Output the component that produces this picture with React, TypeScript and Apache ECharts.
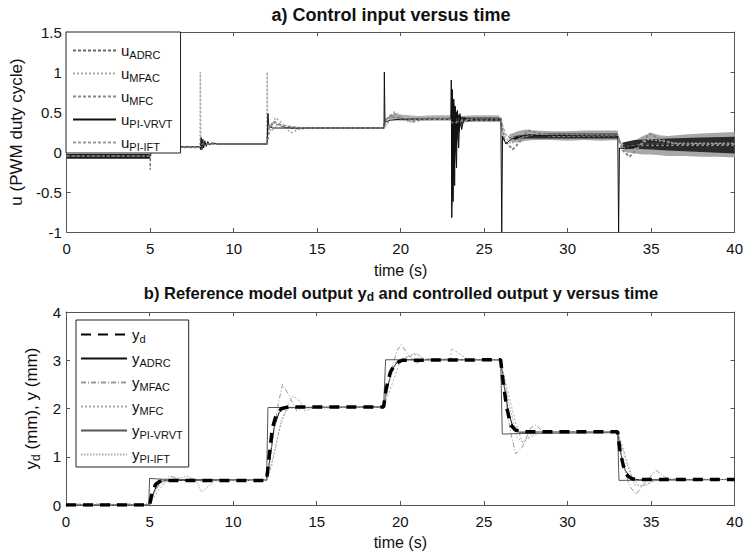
import React, { useEffect, useRef } from 'react';
import * as echarts from 'echarts';

const FONT = '"Liberation Sans", Arial, Helvetica, sans-serif';

// ---------- panel a) control input ----------
const uNames = ['u_ADRC', 'u_MFAC', 'u_MFC', 'u_PI-VRVT', 'u_PI-IFT'];

const uADRC: number[][] = [
  [0, -0.05], [4.98, -0.05], [5.0, -0.22], [5.05, 0.065], [7.98, 0.065], [8.02, 0.12], [8.3, 0.1], [11.98, 0.1],
  [12.05, 0.28], [12.4, 0.36], [13, 0.31], [13.6, 0.29], [14.5, 0.3], [18.98, 0.3], [19.05, 0.42], [19.5, 0.44],
  [20.3, 0.41], [21, 0.42], [22.98, 0.42], [23.1, 0.4], [23.5, 0.41], [25.98, 0.41], [26.1, 0.25], [26.5, 0.18],
  [27.2, 0.2], [28, 0.21], [32.98, 0.21], [33.1, 0.12], [33.6, 0.07], [34.5, 0.1], [36, 0.1], [40, 0.1],
];
const uMFAC: number[][] = [
  [0, -0.05], [5, -0.05], [5.05, 0.065], [7.98, 0.065], [8.0, 1.0], [8.03, 0.1], [11.98, 0.1], [12.0, 1.0],
  [12.05, 0.2], [12.5, 0.43], [12.9, 0.36], [13.4, 0.24], [13.9, 0.28], [14.5, 0.3], [19, 0.3], [19.2, 0.36],
  [19.6, 0.5], [20, 0.46], [20.5, 0.37], [21, 0.4], [23, 0.42], [23.2, 0.37], [23.6, 0.36], [24.2, 0.41],
  [26, 0.42], [26.2, 0.2], [26.6, 0.1], [27.2, 0.18], [27.8, 0.24], [29, 0.21], [33, 0.21], [33.2, 0.08],
  [33.6, 0.0], [34.2, 0.06], [34.8, 0.16], [35.5, 0.14], [36.5, 0.11], [40, 0.11],
];
const uMFC: number[][] = [
  [0, -0.05], [5, -0.05], [5.05, 0.06], [8, 0.06], [8.05, 0.1], [12, 0.1], [12.1, 0.3], [12.4, 0.38], [13, 0.32],
  [14, 0.3], [19, 0.3], [19.1, 0.4], [19.6, 0.48], [20.2, 0.41], [20.8, 0.38], [21.5, 0.42], [23, 0.42],
  [23.2, 0.38], [24, 0.4], [26, 0.42], [26.2, 0.15], [26.7, 0.03], [27.1, 0.12], [27.6, 0.27], [28.2, 0.24],
  [29, 0.2], [33, 0.2], [33.3, 0.02], [33.7, -0.06], [34.2, 0.05], [34.9, 0.23], [35.6, 0.15], [36.5, 0.1], [40, 0.1],
];
const uPIVRVT: number[][] = [
  [0, -0.05], [5, -0.05], [5.03, 0.065], [8, 0.065], [8.01, 0.03], [8.05, 0.18], [8.1, 0.03], [8.15, 0.16],
  [8.2, 0.05], [8.27, 0.14], [8.35, 0.07], [8.45, 0.13], [8.55, 0.09], [8.7, 0.115], [9, 0.1], [12, 0.1],
  [12.05, 0.48], [12.1, 0.33], [12.3, 0.3], [14, 0.3], [19, 0.3], [19.02, 1.0], [19.06, 0.38], [19.5, 0.4],
  [20, 0.41], [23, 0.41], [23.03, 0.9], [23.06, -0.82], [23.1, 0.78], [23.14, -0.62], [23.18, 0.66],
  [23.23, -0.42], [23.28, 0.57], [23.34, -0.2], [23.4, 0.52], [23.47, 0.05], [23.55, 0.48], [23.65, 0.28],
  [23.8, 0.43], [24, 0.39], [24.5, 0.41], [26, 0.41], [26.05, -1.0], [26.1, 0.2], [26.3, 0.1], [26.6, 0.16],
  [27.5, 0.21], [33, 0.2], [33.05, -1.0], [33.1, 0.05], [33.5, 0.04], [34.5, 0.08], [40, 0.08],
];
const uPIIFT: number[][] = [
  [0, -0.05], [5, -0.05], [5.05, 0.065], [8, 0.065], [8.05, 0.1], [12, 0.1], [12.1, 0.22], [12.6, 0.34],
  [13.2, 0.33], [14, 0.3], [19, 0.3], [19.3, 0.38], [19.8, 0.45], [20.5, 0.4], [23, 0.41], [23.1, 0.36],
  [23.5, 0.38], [24, 0.4], [26, 0.4], [26.3, 0.22], [26.7, 0.13], [27.3, 0.18], [28, 0.22], [33, 0.21],
  [33.3, 0.06], [33.8, 0.02], [34.5, 0.08], [40, 0.08],
];

// noise envelopes of the input signals: [t, low, high]
const bandDark0: number[][] = [[0, -0.085, -0.025], [2.5, -0.085, -0.025], [5, -0.085, -0.025]];
const bandSpike23: number[][] = [
  [23.02, 0.4, 0.4], [23.04, -0.82, 0.9], [23.1, -0.6, 0.72], [23.2, -0.3, 0.6], [23.3, 0.0, 0.52],
  [23.45, 0.22, 0.47], [23.6, 0.33, 0.44], [23.8, 0.38, 0.43],
];
const bandGray19: number[][] = [
  [19.3, 0.4, 0.47], [20, 0.39, 0.47], [21, 0.39, 0.45], [22, 0.39, 0.46], [23, 0.39, 0.46],
  [23.5, 0.37, 0.45], [24.5, 0.38, 0.46], [25.9, 0.38, 0.46],
];
const bandDark23: number[][] = [[23.4, 0.38, 0.43], [24, 0.385, 0.43], [25, 0.385, 0.43], [26, 0.385, 0.43]];
const bandGray26: number[][] = [
  [26.5, 0.13, 0.22], [27, 0.12, 0.26], [27.5, 0.14, 0.28], [28, 0.15, 0.27], [29, 0.15, 0.26],
  [30, 0.14, 0.26], [31, 0.15, 0.27], [32, 0.14, 0.27], [33, 0.15, 0.27],
];
const bandDark26: number[][] = [
  [26.8, 0.15, 0.2], [27.5, 0.17, 0.22], [28.5, 0.17, 0.23], [30, 0.17, 0.23], [31.5, 0.17, 0.23], [33, 0.17, 0.23],
];
const bandGray33: number[][] = [
  [33.4, 0.0, 0.1], [34, -0.02, 0.14], [34.5, -0.03, 0.2], [35, -0.03, 0.24], [35.5, -0.04, 0.21],
  [36, -0.05, 0.2], [37, -0.05, 0.22], [38, -0.06, 0.23], [39, -0.06, 0.24], [40, -0.07, 0.25],
];
const bandDark33: number[][] = [
  [33.3, 0.04, 0.12], [34, 0.04, 0.15], [35, 0.03, 0.16], [36, 0.02, 0.17], [38, 0.0, 0.18], [40, -0.02, 0.19],
];

// ---------- panel b) outputs ----------
const yNames = ['y_d', 'y_ADRC', 'y_MFAC', 'y_MFC', 'y_PI-VRVT', 'y_PI-IFT'];

const yD: number[][] = [
  [0, 0], [5, 0], [5.15, 0.25], [5.35, 0.42], [5.6, 0.49], [6, 0.51], [12, 0.51], [12.15, 1.0], [12.35, 1.6],
  [12.6, 1.9], [12.9, 2.0], [13.3, 2.03], [19, 2.03], [19.15, 2.4], [19.4, 2.75], [19.7, 2.93], [20.1, 3.0],
  [26, 3.01], [26.15, 2.55], [26.35, 2.05], [26.6, 1.66], [26.9, 1.55], [27.3, 1.52], [33, 1.52], [33.15, 1.1],
  [33.35, 0.8], [33.6, 0.6], [33.9, 0.54], [34.3, 0.53], [40, 0.53],
];
const yADRC: number[][] = [
  [0, 0], [5, 0], [5.2, 0.22], [5.45, 0.42], [5.8, 0.5], [6.3, 0.51], [12, 0.51], [12.2, 0.95], [12.45, 1.6],
  [12.75, 1.92], [13.1, 2.02], [19, 2.03], [19.2, 2.4], [19.5, 2.8], [19.8, 2.96], [20.2, 3.01], [26, 3.01],
  [26.2, 2.5], [26.45, 1.95], [26.75, 1.6], [27.1, 1.51], [33, 1.52], [33.2, 1.05], [33.45, 0.72], [33.8, 0.55],
  [34.3, 0.52], [40, 0.53],
];
const yMFAC: number[][] = [
  [0, 0.02], [5, 0.02], [5.2, 0.2], [5.6, 0.45], [6.2, 0.6], [7, 0.52], [7.4, 0.55], [8, 0.5], [12, 0.51],
  [12.3, 1.2], [12.7, 2.1], [12.95, 2.5], [13.3, 2.3], [13.8, 1.95], [14.3, 2.02], [19, 2.03], [19.4, 2.7],
  [19.8, 3.2], [20.05, 3.32], [20.5, 3.1], [20.95, 2.94], [21.6, 3.03], [26, 3.01], [26.3, 2.2], [26.6, 1.5],
  [26.9, 1.06], [27.3, 1.2], [27.8, 1.6], [28.1, 1.66], [28.6, 1.5], [33, 1.52], [33.3, 0.9], [33.7, 0.4],
  [34.1, 0.22], [34.6, 0.45], [35.3, 0.72], [35.8, 0.58], [36.5, 0.53], [40, 0.53],
];
const yMFC: number[][] = [
  [0, 0], [5, 0], [5.5, 0.3], [6, 0.48], [6.5, 0.52], [12, 0.51], [12.3, 0.8], [12.8, 1.6], [13.3, 2.1],
  [13.6, 2.26], [14, 2.15], [14.3, 1.95], [15, 2.03], [19, 2.03], [19.4, 2.4], [19.9, 2.9], [20.3, 3.05],
  [21, 3.13], [21.5, 3.0], [23, 3.0], [23.05, 3.25], [23.6, 3.12], [24, 3.02], [26, 3.01], [26.4, 2.4],
  [26.9, 1.7], [27.3, 1.3], [27.7, 1.38], [28.3, 1.5], [33, 1.52], [33.4, 1.1], [33.9, 0.55], [34.3, 0.38],
  [34.6, 0.41], [35.2, 0.5], [36, 0.53], [40, 0.53],
];
const yPIVRVT: number[][] = [
  [0, 0], [4.95, 0], [5.0, 0.55], [6, 0.53], [12, 0.52], [12.08, 2.02], [19, 2.03], [19.12, 3.01], [26, 3.01],
  [26.1, 1.47], [27, 1.48], [33, 1.5], [33.08, 0.51], [40, 0.53],
];
const yPIIFT: number[][] = [
  [0, 0], [5, 0], [5.4, 0.35], [6, 0.5], [7.3, 0.6], [7.8, 0.5], [8.1, 0.27], [8.5, 0.38], [8.9, 0.5], [12, 0.51],
  [12.4, 1.0], [12.9, 1.8], [13.3, 2.0], [19, 2.03], [19.3, 2.5], [19.7, 2.95], [20.2, 3.05], [20.9, 3.15],
  [21.5, 3.0], [26, 3.01], [26.5, 2.1], [27.0, 1.4], [27.3, 1.3], [27.8, 1.45], [28.4, 1.52], [33, 1.52],
  [33.5, 0.9], [34.0, 0.42], [34.6, 0.4], [35.2, 0.5], [40, 0.53],
];

function lineSeries(name: string, data: number[][], panel: number, color: string, width: number, type: any, z = 3) {
  return {
    type: 'line', name, data, xAxisIndex: panel * 2, yAxisIndex: panel * 2, symbol: 'none', showSymbol: false,
    lineStyle: { color, width, type }, itemStyle: { color }, z, silent: true, clip: true,
  };
}

function bandSeries(data: number[][], panel: number, color: string, z: number) {
  return {
    type: 'custom', data, xAxisIndex: panel * 2, yAxisIndex: panel * 2, encode: { x: 0, y: [1, 2] }, silent: true, z,
    renderItem: (params: any, api: any) => {
      if (params.dataIndex !== 0) return null;
      const top = data.map((d) => api.coord([d[0], d[2]]));
      const bot = data.map((d) => api.coord([d[0], d[1]])).reverse();
      return { type: 'polygon', shape: { points: top.concat(bot) }, style: { fill: color } };
    },
  };
}

const subFmt = (name: string) => {
  const i = name.indexOf('_');
  return `{m|${name.slice(0, i)}}{s|${name.slice(i + 1)}}`;
};

const richLegend = {
  m: { fontSize: 15, lineHeight: 16, fontFamily: FONT, color: '#111' },
  s: { fontSize: 11, lineHeight: 16, fontFamily: FONT, color: '#111', padding: [8, 0, 0, 0] },
};

function axisPair(gridIndex: number, min: number, max: number, interval: number, name: string, nameGap: number, rich?: any) {
  const line = { show: true, onZero: false, lineStyle: { color: '#555', width: 1 } };
  const tick = { show: true, inside: true, length: 4, lineStyle: { color: '#555' } };
  return {
    x: [
      {
        type: 'value', gridIndex, min: 0, max: 40, interval: 5, position: 'bottom', axisLine: line, axisTick: tick,
        splitLine: { show: false },
        axisLabel: { fontSize: 15, color: '#111', fontFamily: FONT, margin: 9 },
        name: 'time (s)', nameLocation: 'middle', nameGap: gridIndex === 0 ? 30 : 29,
        nameTextStyle: { fontSize: 16, color: '#111', fontFamily: FONT },
      },
      {
        type: 'value', gridIndex, min: 0, max: 40, interval: 5, position: 'top', axisLine: line, axisTick: tick,
        splitLine: { show: false }, axisLabel: { show: false },
      },
    ],
    y: [
      {
        type: 'value', gridIndex, min, max, interval, position: 'left', axisLine: line, axisTick: tick,
        splitLine: { show: false },
        axisLabel: { fontSize: 15, color: '#111', fontFamily: FONT, margin: 5 },
        name, nameLocation: 'middle', nameGap,
        nameTextStyle: { fontSize: 17, color: '#111', fontFamily: FONT, rich },
      },
      {
        type: 'value', gridIndex, min, max, interval, position: 'right', axisLine: line, axisTick: tick,
        splitLine: { show: false }, axisLabel: { show: false },
      },
    ],
  };
}

const legendIconStyle = { color: 'transparent', borderWidth: 0, opacity: 0 };

export default function App() {
  const ref = useRef<HTMLDivElement>(null);
  useEffect(() => {
    if (!ref.current) return;
    const chart = echarts.init(ref.current, null, { renderer: 'svg' });
    const a = axisPair(0, -1, 1.5, 0.5, 'u (PWM duty cycle)', 33);
    const b = axisPair(1, 0, 4, 1, '{m|y}{s|d}{m| (mm), y (mm)}', 26, {
      m: { fontSize: 17, fontFamily: FONT, color: '#111', lineHeight: 18 },
      s: { fontSize: 12, fontFamily: FONT, color: '#111', lineHeight: 18, padding: [9, 0, 0, 0] },
    });
    const option: any = {
      animation: false,
      backgroundColor: '#fff',
      title: [
        {
          text: 'a) Control input versus time', left: 391, top: 6, textAlign: 'center', padding: 0,
          textStyle: { fontSize: 18, fontWeight: 'bold', color: '#111', fontFamily: FONT },
        },
        {
          text: '{t|b) Reference model output y}{s|d}{t| and controlled output y versus time}',
          left: 401, top: 284, textAlign: 'center', padding: 0,
          textStyle: {
            fontFamily: FONT,
            rich: {
              t: { fontSize: 16.5, fontWeight: 'bold', color: '#111', fontFamily: FONT, lineHeight: 18 },
              s: { fontSize: 12, fontWeight: 'bold', color: '#111', fontFamily: FONT, lineHeight: 18, padding: [8, 0, 0, 0] },
            },
          },
        },
      ],
      grid: [
        { left: 66, top: 32, width: 670, height: 200 },
        { left: 66, top: 312, width: 670, height: 195 },
      ],
      xAxis: [...a.x, ...b.x],
      yAxis: [...a.y, ...b.y],
      legend: [
        {
          data: uNames, orient: 'vertical', left: 66, top: 32, padding: [9, 8, 1, 6], itemGap: 4,
          itemWidth: 43, itemHeight: 16, backgroundColor: '#fff', borderColor: '#222', borderWidth: 1,
          selectedMode: false, formatter: subFmt, textStyle: { rich: richLegend }, itemStyle: legendIconStyle,
        },
        {
          data: yNames, orient: 'vertical', left: 76, top: 320, padding: [5, 6, 3, 4], itemGap: 5,
          itemWidth: 46, itemHeight: 16, backgroundColor: '#fff', borderColor: '#222', borderWidth: 1,
          selectedMode: false, formatter: subFmt, textStyle: { rich: richLegend }, itemStyle: legendIconStyle,
        },
      ],
      series: [
        bandSeries(bandGray19, 0, '#b0b0b0', 1),
        bandSeries(bandGray26, 0, '#a8a8a8', 1),
        bandSeries(bandGray33, 0, '#a8a8a8', 1),
        bandSeries(bandDark0, 0, '#1a1a1a', 2),
        bandSeries(bandSpike23, 0, '#1a1a1a', 2),
        bandSeries(bandDark23, 0, '#333', 2),
        bandSeries(bandDark26, 0, '#2a2a2a', 2),
        bandSeries(bandDark33, 0, '#2a2a2a', 2),
        lineSeries('u_ADRC', uADRC, 0, '#666', 1, [3, 2]),
        lineSeries('u_MFAC', uMFAC, 0, '#aaa', 1.5, [2, 2]),
        lineSeries('u_MFC', uMFC, 0, '#888', 2, [3, 2]),
        lineSeries('u_PI-VRVT', uPIVRVT, 0, '#111', 1, 'solid'),
        lineSeries('u_PI-IFT', uPIIFT, 0, '#999', 1, [3, 2]),
        lineSeries('y_d', yD, 1, '#000', 3.5, [10, 7], 5),
        lineSeries('y_ADRC', yADRC, 1, '#111', 1, 'solid'),
        lineSeries('y_MFAC', yMFAC, 1, '#999', 1, [5, 2, 1, 2]),
        lineSeries('y_MFC', yMFC, 1, '#aaa', 1, [2, 2]),
        lineSeries('y_PI-VRVT', yPIVRVT, 1, '#555', 1, 'solid'),
        lineSeries('y_PI-IFT', yPIIFT, 1, '#aaa', 1, [1.5, 1.5]),
      ],
    };
    chart.setOption(option);
    return () => chart.dispose();
  }, []);
  return (
    <div
      ref={ref}
      style={{ position: 'fixed', left: 0, top: 0, width: 746, height: 551, background: '#fff' }}
    />
  );
}
